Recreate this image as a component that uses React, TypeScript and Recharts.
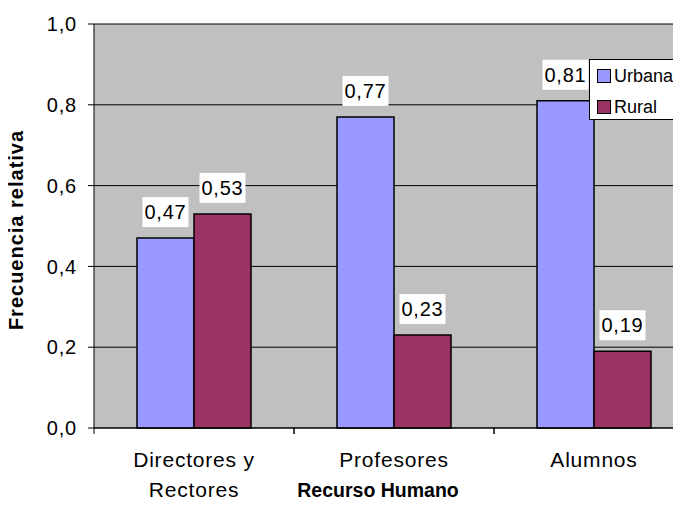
import { BarChart, Bar, XAxis, YAxis, CartesianGrid, LabelList } from "recharts";

const categories = ["Directores y\nRectores", "Profesores", "Alumnos"];
const urbana = [0.47, 0.77, 0.81];
const rural = [0.53, 0.23, 0.19];
const yTicks = [0, 0.2, 0.4, 0.6, 0.8, 1.0];
const seriesNames = ["Urbana", "Rural"];
const seriesColors = ["#9999ff", "#993366"];

const data = categories.map((name, i) => ({ name, urbana: urbana[i], rural: rural[i] }));

const FONT = "Arial, 'Liberation Sans', sans-serif";
const fmt = (v: number) => v.toFixed(2).replace(".", ",");

function ValueLabel(props: any) {
  const { x, y, width, value } = props;
  const cx = x + width / 2;
  const cy = y - 26;
  const text = fmt(Number(value));
  const w = 46;
  return (
    <g>
      <rect x={cx - w / 2} y={cy - 15} width={w} height={30} fill="#ffffff" />
      <text x={cx} y={cy} textAnchor="middle" dominantBaseline="central" fontFamily={FONT} fontSize={20} letterSpacing={0.8} fill="#000">
        {text}
      </text>
    </g>
  );
}

function CatTick(props: any) {
  const { x, y, payload } = props;
  const lines = String(payload.value).split("\n");
  return (
    <g>
      <line x1={x - 100} y1={y - 8} x2={x - 100} y2={y - 2} stroke="#000" />
      <line x1={x + 100} y1={y - 8} x2={x + 100} y2={y - 2} stroke="#000" />
      {lines.map((l, i) => (
        <text key={i} x={x} y={y + 31 + i * 30} textAnchor="middle" fontFamily={FONT} fontSize={21} letterSpacing={0.8} fill="#000">
          {l}
        </text>
      ))}
    </g>
  );
}

function LegendBox() {
  return (
    <div style={{ position: "absolute", left: 589, top: 59, width: 100, height: 61, background: "#fff", border: "1px solid #000", boxSizing: "border-box" }}>
      {seriesNames.map((label, i) => (
        <div key={label} style={{ position: "absolute", left: 7, top: 5 + i * 31, height: 22, display: "flex", alignItems: "center", fontFamily: FONT, fontSize: 18 }}>
          <span style={{ width: 12, height: 12, background: seriesColors[i], border: "1px solid #000", marginRight: 3, display: "inline-block" }} />
          <span>{label}</span>
        </div>
      ))}
    </div>
  );
}

export default function App() {
  return (
    <div style={{ position: "relative", margin: -8, width: 681, height: 505, overflow: "hidden", background: "#fff" }}>
      <BarChart
        width={694}
        height={505}
        data={data}
        margin={{ top: 24, right: 0, left: 0, bottom: 0 }}
        barCategoryGap="21.5%"
        barGap={0}
      >
        <CartesianGrid vertical={false} stroke="#000" fill="#c0c0c0" />
        <XAxis
          dataKey="name"
          height={77}
          axisLine={{ stroke: "#000" }}
          tickLine={false}
          tick={<CatTick />}
          interval={0}
        />
        <YAxis
          width={94}
          domain={[0, 1]}
          ticks={yTicks}
          tickFormatter={(v) => Number(v).toFixed(1).replace(".", ",")}
          axisLine={{ stroke: "#000" }}
          tickLine={{ stroke: "#000" }}
          tickSize={6}
          tickMargin={11}
          tick={{ fill: "#000", fontSize: 20, fontFamily: FONT, letterSpacing: 0.8 }}
        />
        <Bar dataKey="urbana" name={seriesNames[0]} fill={seriesColors[0]} stroke="#000" strokeWidth={1.5} isAnimationActive={false}>
          <LabelList dataKey="urbana" content={<ValueLabel />} />
        </Bar>
        <Bar dataKey="rural" name={seriesNames[1]} fill={seriesColors[1]} stroke="#000" strokeWidth={1.5} isAnimationActive={false}>
          <LabelList dataKey="rural" content={<ValueLabel />} />
        </Bar>
        <text x={16} y={230} transform="rotate(-90 16 230)" textAnchor="middle" dominantBaseline="central" fontFamily={FONT} fontWeight="bold" fontSize={20} letterSpacing={1} fill="#000">
          Frecuencia relativa
        </text>
        <text x={378} y={497} textAnchor="middle" fontFamily={FONT} fontWeight="bold" fontSize={19.5} fill="#000">
          Recurso Humano
        </text>
      </BarChart>
      <LegendBox />
    </div>
  );
}
